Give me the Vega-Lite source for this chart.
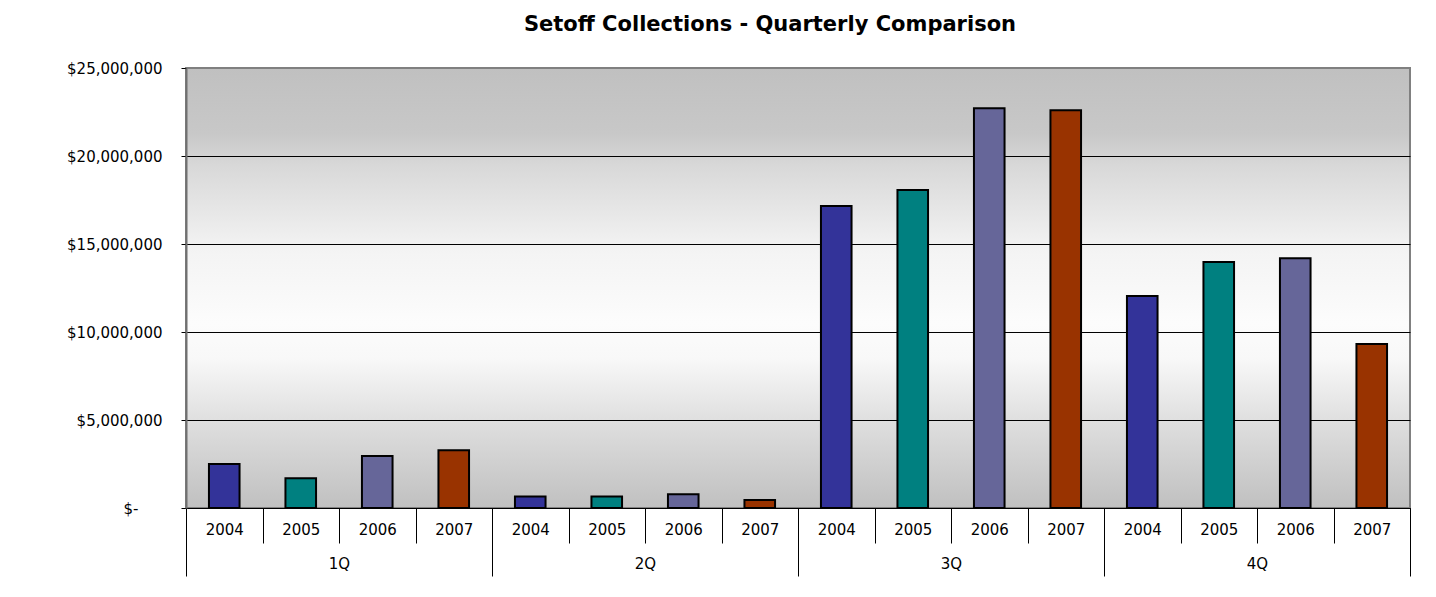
{
  "$schema": "https://vega.github.io/schema/vega-lite/v6.json",
  "width": 1224,
  "height": 440,
  "autosize": {"type": "none"},
  "padding": {"left": 186, "top": 68, "right": 26, "bottom": 89},
  "background": "white",
  "title": {
    "text": "Setoff Collections - Quarterly Comparison",
    "font": "DejaVu Sans",
    "fontSize": 21,
    "fontWeight": "bold",
    "color": "black",
    "anchor": "middle",
    "frame": "group",
    "baseline": "alphabetic",
    "offset": 9,
    "dx": -28
  },
  "config": {
    "view": {
      "fill": {
        "gradient": "linear",
        "x1": 0, "y1": 0, "x2": 0, "y2": 1,
        "stops": [
          {"offset": 0, "color": "#c0c0c0"},
          {"offset": 0.15, "color": "#c8c8c8"},
          {"offset": 0.22, "color": "#d8d8d8"},
          {"offset": 0.42, "color": "#f4f4f4"},
          {"offset": 0.58, "color": "#fcfcfc"},
          {"offset": 0.66, "color": "#f8f8f8"},
          {"offset": 0.82, "color": "#dcdcdc"},
          {"offset": 1, "color": "#c0c0c0"}
        ]
      },
      "stroke": "#808080",
      "strokeWidth": 2
    },
    "axis": {"labelFont": "DejaVu Sans", "labelFontSize": 15, "labelColor": "black"}
  },
  "data": {
    "values": [
      {"period": "1Q 2004", "quarter": "1Q", "year": "2004", "amount": 2500000},
      {"period": "1Q 2005", "quarter": "1Q", "year": "2005", "amount": 1690000},
      {"period": "1Q 2006", "quarter": "1Q", "year": "2006", "amount": 2950000},
      {"period": "1Q 2007", "quarter": "1Q", "year": "2007", "amount": 3280000},
      {"period": "2Q 2004", "quarter": "2Q", "year": "2004", "amount": 660000},
      {"period": "2Q 2005", "quarter": "2Q", "year": "2005", "amount": 660000},
      {"period": "2Q 2006", "quarter": "2Q", "year": "2006", "amount": 780000},
      {"period": "2Q 2007", "quarter": "2Q", "year": "2007", "amount": 450000},
      {"period": "3Q 2004", "quarter": "3Q", "year": "2004", "amount": 17160000},
      {"period": "3Q 2005", "quarter": "3Q", "year": "2005", "amount": 18070000},
      {"period": "3Q 2006", "quarter": "3Q", "year": "2006", "amount": 22710000},
      {"period": "3Q 2007", "quarter": "3Q", "year": "2007", "amount": 22600000},
      {"period": "4Q 2004", "quarter": "4Q", "year": "2004", "amount": 12050000},
      {"period": "4Q 2005", "quarter": "4Q", "year": "2005", "amount": 13980000},
      {"period": "4Q 2006", "quarter": "4Q", "year": "2006", "amount": 14190000},
      {"period": "4Q 2007", "quarter": "4Q", "year": "2007", "amount": 9320000}
    ]
  },
  "layer": [
    {
      "mark": {"type": "bar", "stroke": "black", "strokeWidth": 2, "width": {"band": 0.4}},
      "encoding": {
        "x": {
          "field": "period",
          "type": "nominal",
          "sort": null,
          "scale": {"paddingInner": 0, "paddingOuter": 0},
          "axis": {
            "orient": "bottom",
            "title": null,
            "labelExpr": "slice(datum.label, -4)",
            "labelAngle": 0,
            "tickBand": "extent",
            "tickSize": 35,
            "tickColor": "black",
            "domainColor": "black",
            "labelPadding": -13.5,
            "labelBaseline": "middle",
            "labelAlign": "center"
          }
        },
        "y": {
          "field": "amount",
          "type": "quantitative",
          "scale": {"domain": [0, 25000000]},
          "axis": {
            "title": null,
            "values": [0, 5000000, 10000000, 15000000, 20000000, 25000000],
            "labelExpr": "datum.value == 0 ? '$-' : '$' + format(datum.value, ',')",
            "grid": true,
            "gridColor": "black",
            "gridOpacity": {"condition": {"test": "datum.value == 25000000", "value": 0}, "value": 1},
            "tickSize": 5,
            "tickColor": "black",
            "domainColor": "#707070",
            "domainWidth": 2,
            "labelPadding": {"condition": {"test": "datum.value == 0", "value": 43}, "value": 19}
          }
        },
        "color": {
          "field": "year",
          "type": "nominal",
          "scale": {"domain": ["2004", "2005", "2006", "2007"], "range": ["#333399", "#008080", "#666699", "#993300"]},
          "legend": null
        }
      }
    },
    {
      "mark": {"type": "point", "opacity": 0},
      "encoding": {
        "x": {
          "field": "quarter",
          "type": "nominal",
          "sort": null,
          "scale": {"type": "band", "paddingInner": 0, "paddingOuter": 0},
          "axis": {
            "orient": "bottom",
            "title": null,
            "domain": false,
            "tickBand": "extent",
            "tickSize": 68,
            "tickColor": "black",
            "labelPadding": -13,
            "labelBaseline": "middle",
            "labelAngle": 0
          }
        }
      }
    }
  ],
  "resolve": {"scale": {"x": "independent"}, "axis": {"x": "independent"}}
}
